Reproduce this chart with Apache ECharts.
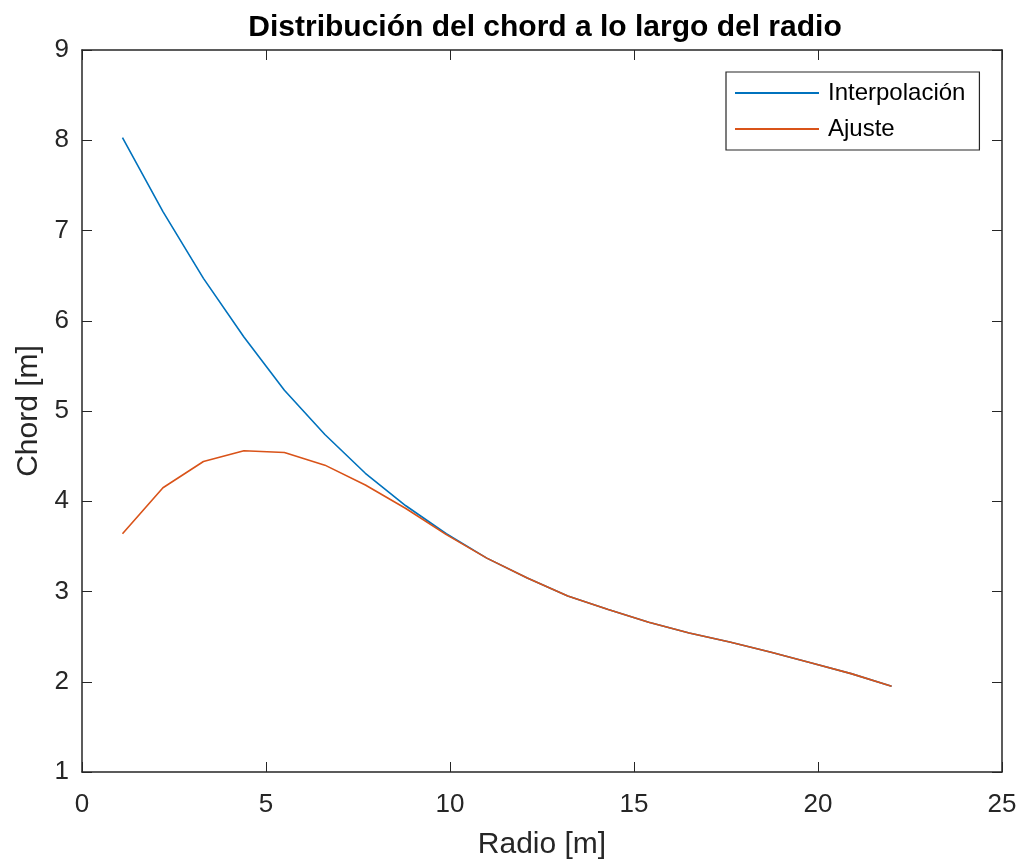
<!DOCTYPE html>
<html>
<head>
<meta charset="utf-8">
<script src="https://cdn.jsdelivr.net/npm/echarts@6/dist/echarts.min.js"></script>
<style>
  html, body { margin: 0; padding: 0; background: #fff; }
  #chart { width: 1021px; height: 865px; }
</style>
</head>
<body>
<div id="chart"></div>
<script>
// radio positions [m]
const radio = [1.1, 2.2, 3.3, 4.4, 5.5, 6.6, 7.7, 8.8, 9.9, 11.0,
               12.1, 13.2, 14.3, 15.4, 16.5, 17.6, 18.7, 19.8, 20.9, 22.0]

// chord values [m]
const interpolacion = [8.03, 7.21, 6.47, 5.82, 5.23, 4.74, 4.31, 3.95, 3.64, 3.37,
                       3.15, 2.95, 2.80, 2.66, 2.54, 2.44, 2.33, 2.21, 2.09, 1.95]
const ajuste = [3.64, 4.15, 4.44, 4.56, 4.54, 4.40, 4.18, 3.92, 3.63, 3.37,
                3.15, 2.95, 2.80, 2.66, 2.54, 2.44, 2.33, 2.21, 2.09, 1.95]

const axisColor = '#262626'
const font = '"Liberation Sans", Arial, sans-serif'

const pairs = (ys) => radio.map((x, i) => [x, ys[i]])

const tickStyle = { show: true, inside: true, length: 10, lineStyle: { color: axisColor, width: 1 } }
const lineStyle = { show: true, onZero: false, lineStyle: { color: axisColor, width: 1.5 } }

const chart = echarts.init(document.getElementById('chart'), null, { renderer: 'canvas' })

chart.setOption({
  animation: false,
  backgroundColor: '#fff',
  title: {
    text: 'Distribución del chord a lo largo del radio',
    left: 540,
    textAlign: 'center',
    top: 8,
    textStyle: { fontFamily: font, fontSize: 30, fontWeight: 'bold', color: '#000' },
  },
  grid: { left: 82, top: 50, width: 920, height: 725 },
  legend: {
    orient: 'vertical',
    left: 726,
    top: 72,
    padding: [9, 14, 9, 9],
    itemGap: 12,
    itemWidth: 84,
    itemHeight: 2,
    icon: 'rect',
    borderColor: axisColor,
    borderWidth: 1.2,
    backgroundColor: '#fff',
    textStyle: { fontFamily: font, fontSize: 24, color: '#000', padding: [0, 0, 0, 4] },
    data: ['Interpolación', 'Ajuste'],
  },
  xAxis: [
    {
      type: 'value', position: 'bottom', min: 0, max: 25, interval: 5,
      name: 'Radio [m]', nameLocation: 'middle', nameGap: 58,
      nameTextStyle: { fontFamily: font, fontSize: 30, color: axisColor },
      axisLine: lineStyle, axisTick: tickStyle,
      axisLabel: { margin: 20, fontFamily: font, fontSize: 26, color: axisColor },
      splitLine: { show: false },
    },
    {
      type: 'value', position: 'top', min: 0, max: 25, interval: 5,
      axisLine: lineStyle, axisTick: tickStyle,
      axisLabel: { show: false }, splitLine: { show: false },
    },
  ],
  yAxis: [
    {
      type: 'value', position: 'left', min: 1, max: 9, interval: 1,
      name: 'Chord [m]', nameLocation: 'middle', nameGap: 37,
      nameTextStyle: { fontFamily: font, fontSize: 30, color: axisColor },
      axisLine: lineStyle, axisTick: tickStyle,
      axisLabel: { margin: 13, fontFamily: font, fontSize: 26, color: axisColor },
      splitLine: { show: false },
    },
    {
      type: 'value', position: 'right', min: 1, max: 9, interval: 1,
      axisLine: lineStyle, axisTick: tickStyle,
      axisLabel: { show: false }, splitLine: { show: false },
    },
  ],
  series: [
    {
      name: 'Interpolación', type: 'line', data: pairs(interpolacion),
      showSymbol: false, symbol: 'none',
      color: '#0072BD', lineStyle: { color: '#0072BD', width: 1.6 },
    },
    {
      name: 'Ajuste', type: 'line', data: pairs(ajuste),
      showSymbol: false, symbol: 'none',
      color: '#D95319', lineStyle: { color: '#D95319', width: 1.6 },
    },
  ],
})
</script>
</body>
</html>
